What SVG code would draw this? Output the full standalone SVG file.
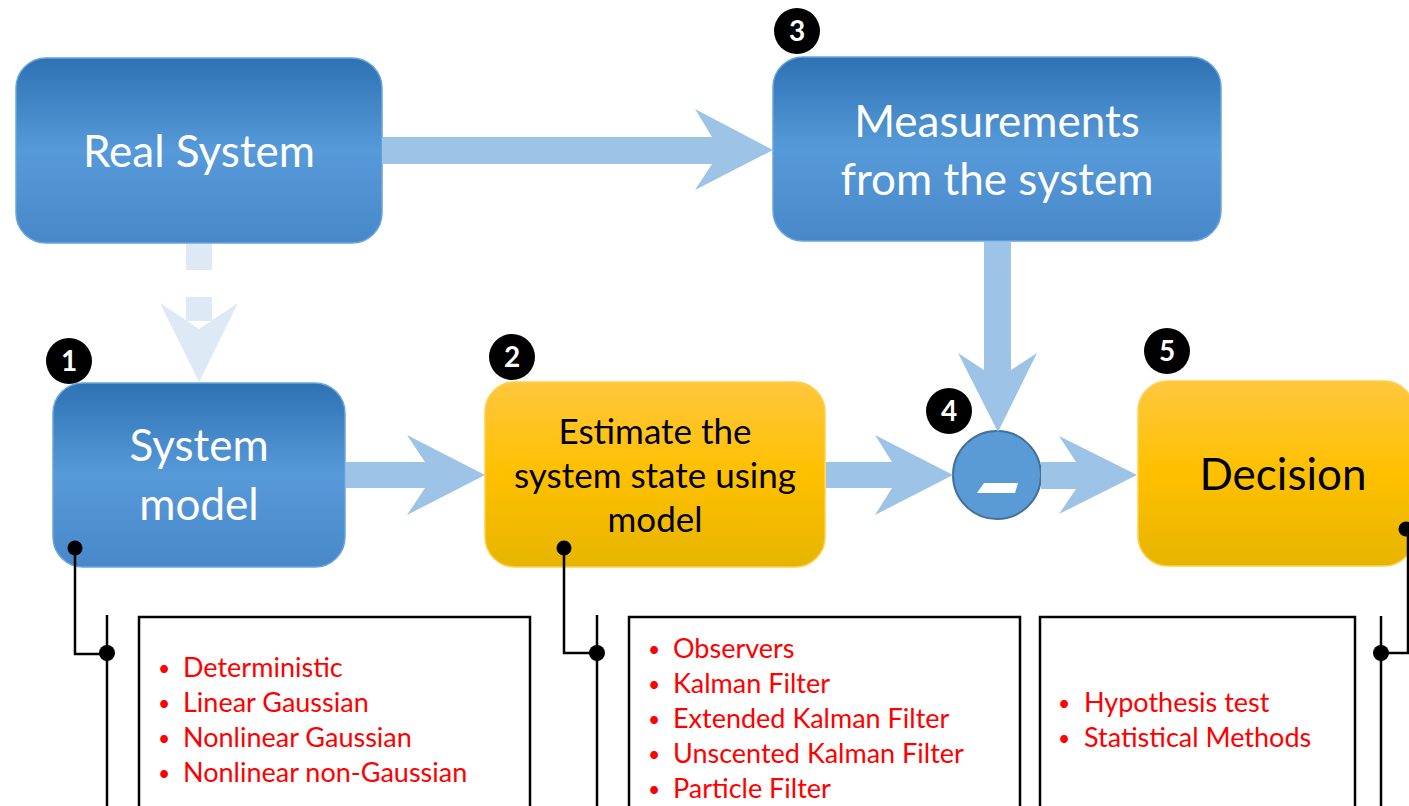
<svg xmlns="http://www.w3.org/2000/svg" width="1409" height="806" viewBox="0 0 1409 806">
  <defs>
    <linearGradient id="blueFill" x1="0" y1="0" x2="0" y2="1">
      <stop offset="0" stop-color="#2f72b4"/>
      <stop offset="0.5" stop-color="#579ad9"/>
      <stop offset="1" stop-color="#4888c8"/>
    </linearGradient>
    <linearGradient id="goldFill" x1="0" y1="0" x2="0" y2="1">
      <stop offset="0" stop-color="#ffc73e"/>
      <stop offset="0.5" stop-color="#ffc000"/>
      <stop offset="1" stop-color="#e6b500"/>
    </linearGradient>
    <style>
      .blue { fill: url(#blueFill); stroke: #6aa5dc; stroke-width: 1.5; }
      .gold { fill: url(#goldFill); stroke: #ffcf4a; stroke-width: 1.5; }
      .big { font-family: Lato, "Liberation Sans", sans-serif; font-size: 44px; text-anchor: middle; }
      .mid { font-family: Lato, "Liberation Sans", sans-serif; font-size: 35px; text-anchor: middle; fill: #000; }
      .white { fill: #ffffff; }
      .black { fill: #000000; }
      .badge circle { fill: #000; }
      .badge text { font-family: Lato, "Liberation Sans", sans-serif; font-size: 28px; font-weight: bold; fill: #fff; text-anchor: middle; }
      .flow { fill: #9dc3e6; }
      .faint { fill: #dde9f5; }
      .wire { fill: none; stroke: #000; stroke-width: 2.5; }
      .joint { fill: #000; }
      .list rect { fill: #fff; stroke: #000; stroke-width: 2.5; }
      .list text { font-family: Lato, "Liberation Sans", sans-serif; font-size: 27px; fill: #ff0000; }
      .list text.dot { font-size: 21px; }
    </style>
  </defs>

  <rect width="1409" height="806" fill="#ffffff"/>

  <g id="real-system">
    <rect class="blue" x="16" y="58" width="366" height="185" rx="30"/>
    <text class="big white" x="199" y="167">Real System</text>
  </g>

  <g id="measurements">
    <rect class="blue" x="773" y="57" width="448" height="184" rx="30"/>
    <text class="big white" x="997" y="137">Measurements</text>
    <text class="big white" x="997" y="195">from the system</text>
  </g>

  <g id="system-model">
    <rect class="blue" x="53" y="383" width="292" height="184" rx="30"/>
    <text class="big white" x="199" y="461">System</text>
    <text class="big white" x="199" y="520">model</text>
  </g>

  <g id="estimate">
    <rect class="gold" x="485" y="382" width="340" height="185" rx="30"/>
    <text class="mid" x="655" y="444">Estimate the</text>
    <text class="mid" x="655" y="488">system state using</text>
    <text class="mid" x="655" y="532">model</text>
  </g>

  <g id="difference">
    <circle cx="997" cy="475" r="44" fill="#5b9bd5" stroke="#41719c" stroke-width="2"/>
    <polygon points="984,483 1018,483 1015,493 977,493" fill="#ffffff"/>
  </g>

  <g id="decision">
    <rect class="gold" x="1138" y="381" width="276" height="185" rx="30"/>
    <text class="big black" x="1283" y="490">Decision</text>
  </g>

  <g id="model-types" class="list">
    <rect x="139" y="617" width="391" height="200"/>
    <text class="dot" x="158" y="676">•</text><text x="183" y="677">Deterministic</text>
    <text class="dot" x="158" y="711">•</text><text x="183" y="712">Linear Gaussian</text>
    <text class="dot" x="158" y="746">•</text><text x="183" y="747">Nonlinear Gaussian</text>
    <text class="dot" x="158" y="781">•</text><text x="183" y="782">Nonlinear non-Gaussian</text>
  </g>

  <g id="estimators" class="list">
    <rect x="629" y="617" width="391" height="200"/>
    <text class="dot" x="648" y="657">•</text><text x="673" y="658">Observers</text>
    <text class="dot" x="648" y="692">•</text><text x="673" y="693">Kalman Filter</text>
    <text class="dot" x="648" y="727">•</text><text x="673" y="728">Extended Kalman Filter</text>
    <text class="dot" x="648" y="762">•</text><text x="673" y="763">Unscented Kalman Filter</text>
    <text class="dot" x="648" y="797">•</text><text x="673" y="798">Particle Filter</text>
  </g>

  <g id="decision-methods" class="list">
    <rect x="1040" y="617" width="315" height="200"/>
    <text class="dot" x="1058" y="711">•</text><text x="1084" y="712">Hypothesis test</text>
    <text class="dot" x="1058" y="746">•</text><text x="1084" y="747">Statistical Methods</text>
  </g>

  <!-- block arrows and leader lines -->
  <g id="connectors">
    <!-- Real System -> Measurements -->
    <polygon class="flow" points="382,137 712,137 695,109 773,150 695,190 712,164 382,164"/>
    <!-- Real System -> System model (dashed block arrow) -->
    <rect class="faint" x="186" y="244" width="26" height="26"/>
    <rect class="faint" x="186" y="297" width="26" height="24"/>
    <polygon class="faint" points="160,303 199,329 238,303 199,382"/>
    <!-- System model -> Estimate -->
    <polygon class="flow" points="346,462 425,462 407,435 485,475 407,515 425,488 346,488"/>
    <!-- Estimate -> difference -->
    <polygon class="flow" points="826,462 892,462 875,435 953,475 875,515 892,488 826,488"/>
    <!-- Measurements -> difference -->
    <polygon class="flow" points="984,242 1011,242 1011,370 1037,353 998,432 958,353 984,370"/>
    <!-- difference -> Decision -->
    <polygon class="flow" points="1041,462 1076,462 1059,436 1137,475 1059,514 1076,489 1041,489"/>

    <!-- leader lines to the method lists -->
    <polyline class="wire" points="75,548 75,654 107,654"/>
    <line class="wire" x1="107" y1="615" x2="107" y2="806"/>
    <circle class="joint" cx="75" cy="548" r="7.5"/>
    <circle class="joint" cx="107" cy="653" r="8"/>

    <polyline class="wire" points="564,548 564,653 597,653"/>
    <line class="wire" x1="597" y1="615" x2="597" y2="806"/>
    <circle class="joint" cx="564" cy="548" r="7.5"/>
    <circle class="joint" cx="597" cy="653" r="8"/>

    <polyline class="wire" points="1406,529 1408,529 1408,653 1381,653"/>
    <line class="wire" x1="1381" y1="616" x2="1381" y2="806"/>
    <circle class="joint" cx="1406" cy="529" r="7.5"/>
    <circle class="joint" cx="1381" cy="653" r="8"/>
  </g>

  <!-- step numbers -->
  <g id="badge-1" class="badge"><circle cx="69" cy="361" r="23"/><text x="69" y="371">1</text></g>
  <g id="badge-2" class="badge"><circle cx="512" cy="357" r="23"/><text x="512" y="367">2</text></g>
  <g id="badge-3" class="badge"><circle cx="797" cy="31" r="23"/><text x="797" y="41">3</text></g>
  <g id="badge-4" class="badge"><circle cx="949" cy="411" r="23"/><text x="949" y="421">4</text></g>
  <g id="badge-5" class="badge"><circle cx="1167" cy="351" r="23"/><text x="1167" y="361">5</text></g>
</svg>
